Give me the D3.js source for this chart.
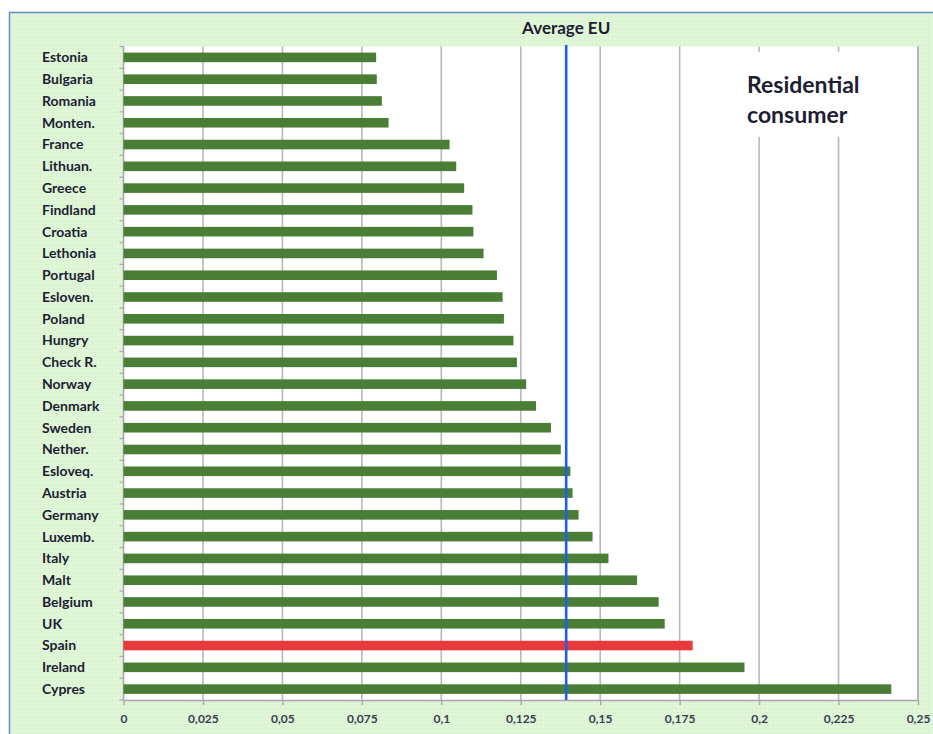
<!DOCTYPE html>
<html>
<head>
<meta charset="utf-8">
<script src="https://cdn.jsdelivr.net/npm/d3@7"></script>
<style>
  html, body { margin: 0; padding: 0; background: #ffffff; }
  svg { display: block; }
  text { font-family: Lato, "Open Sans", "DejaVu Sans", sans-serif; font-weight: 700; }
</style>
</head>
<body>
<svg id="chart" width="933" height="734"></svg>
<script>
// Electricity price per kWh, residential consumers
const countries = ["Estonia","Bulgaria","Romania","Monten.","France","Lithuan.","Greece","Findland","Croatia","Lethonia",
  "Portugal","Esloven.","Poland","Hungry","Check R.","Norway","Denmark","Sweden","Nether.","Esloveq.",
  "Austria","Germany","Luxemb.","Italy","Malt","Belgium","UK","Spain","Ireland","Cypres"];
const prices = [0.0795,0.0797,0.0813,0.0834,0.1026,0.1047,0.1072,0.1098,0.1101,0.1133,
  0.1175,0.1193,0.1197,0.1227,0.1238,0.1267,0.1298,0.1345,0.1376,0.1406,
  0.1413,0.1432,0.1476,0.1526,0.1616,0.1684,0.1703,0.1791,0.1954,0.2416];
const highlighted = ["Spain"];
const averageEU = [0.1393];
const tickValues = [0,0.025,0.05,0.075,0.1,0.125,0.15,0.175,0.2,0.225,0.25];
const tickLabels = ["0","0,025","0,05","0,075","0,1","0,125","0,15","0,175","0,2","0,225","0,25"];
const averageLabel = "Average EU";
const noteLines = ["Residential","consumer"];

const svg = d3.select("#chart");
const W = 933, H = 734;
const plot = { left: 123.5, right: 918, top: 46.5, bottom: 700 };

// Light green panel with a faint grid texture
const defs = svg.append("defs");
const pat = defs.append("pattern").attr("id","panelGrid")
  .attr("width",4).attr("height",4).attr("patternUnits","userSpaceOnUse");
pat.append("rect").attr("width",4).attr("height",4).attr("fill","#e0f7d8");
pat.append("path").attr("d","M0 0.5H4M0.5 0V4").attr("stroke","#dbf3d3").attr("stroke-width",1);

svg.append("rect").attr("x",9).attr("y",12).attr("width",W-9).attr("height",H-12)
  .attr("fill","url(#panelGrid)");
svg.append("path").attr("d",`M9.5 ${H}V12.5H${W}`)
  .attr("fill","none").attr("stroke","#5b8fd0").attr("stroke-width",1.5);

const x = d3.scaleLinear().domain([0,0.25]).range([plot.left, plot.right]);
const y = d3.scaleBand().domain(countries).range([plot.top, plot.bottom])
  .paddingInner(0.56).paddingOuter(0.28);

// Plot area
svg.append("rect").attr("x",plot.left).attr("y",plot.top)
  .attr("width",plot.right-plot.left).attr("height",plot.bottom-plot.top).attr("fill","#ffffff");

// Vertical gridlines
svg.append("g").selectAll("line").data(tickValues.slice(1)).join("line")
  .attr("x1",d=>x(d)).attr("x2",d=>x(d))
  .attr("y1",plot.top).attr("y2",plot.bottom)
  .attr("stroke",(d,i)=> i===tickValues.length-2 ? "#a8a8ae" : "#b8b8b8").attr("stroke-width",1.6);

// Bottom axis
const xAxis = d3.axisBottom(x).tickValues(tickValues)
  .tickFormat((d,i)=>tickLabels[i]).tickSizeInner(5).tickSizeOuter(0).tickPadding(9);
const gx = svg.append("g").attr("transform",`translate(0,${plot.bottom})`).call(xAxis);
gx.select(".domain").attr("stroke","#a8a4b0").attr("stroke-width",1.6);
gx.selectAll(".tick line").attr("stroke","#a8a8ae").attr("stroke-width",1.4);
gx.selectAll(".tick text").attr("fill","#3b3b52").attr("font-size",12)
  .attr("font-family","Lato, sans-serif").attr("font-weight",700);

// Left axis with ticks between categories
svg.append("line").attr("x1",plot.left).attr("x2",plot.left)
  .attr("y1",plot.top).attr("y2",plot.bottom).attr("stroke","#a8a8ae").attr("stroke-width",1.6);
const step = y.step();
svg.append("g").selectAll("line").data(d3.range(countries.length+1)).join("line")
  .attr("x1",plot.left-4).attr("x2",plot.left)
  .attr("y1",i=>plot.top+i*step).attr("y2",i=>plot.top+i*step)
  .attr("stroke","#a8a8ae").attr("stroke-width",1.2);

// Category labels
svg.append("g").selectAll("text").data(countries).join("text")
  .attr("x",42).attr("y",d=>y(d)+y.bandwidth()/2)
  .attr("dy","0.35em").attr("font-size",14).attr("fill","#1d1d33")
  .text(d=>d);

// Bars
svg.append("g").selectAll("rect").data(countries).join("rect")
  .attr("x",x(0)).attr("y",d=>y(d))
  .attr("width",(d,i)=>x(prices[i])-x(0)).attr("height",y.bandwidth())
  .attr("fill",d=>highlighted.includes(d) ? "#e8393b" : "#4a7d35");

// Note box
const note = svg.append("g");
note.append("rect").attr("x",742).attr("y",52).attr("width",128).attr("height",85).attr("fill","#ffffff");
note.selectAll("text").data(noteLines).join("text")
  .attr("x",747).attr("y",(d,i)=>93+i*29.5)
  .attr("font-size",23).attr("fill","#1d1d33").text(d=>d);

// EU average line and label
svg.append("line").attr("x1",x(averageEU[0])).attr("x2",x(averageEU[0]))
  .attr("y1",plot.top-1.5).attr("y2",plot.bottom)
  .attr("stroke","#1f5ee8").attr("stroke-width",2.6);
svg.append("text").attr("x",x(averageEU[0])).attr("y",34)
  .attr("text-anchor","middle").attr("font-size",17).attr("fill","#1d1d33")
  .text(averageLabel);
</script>
</body>
</html>
